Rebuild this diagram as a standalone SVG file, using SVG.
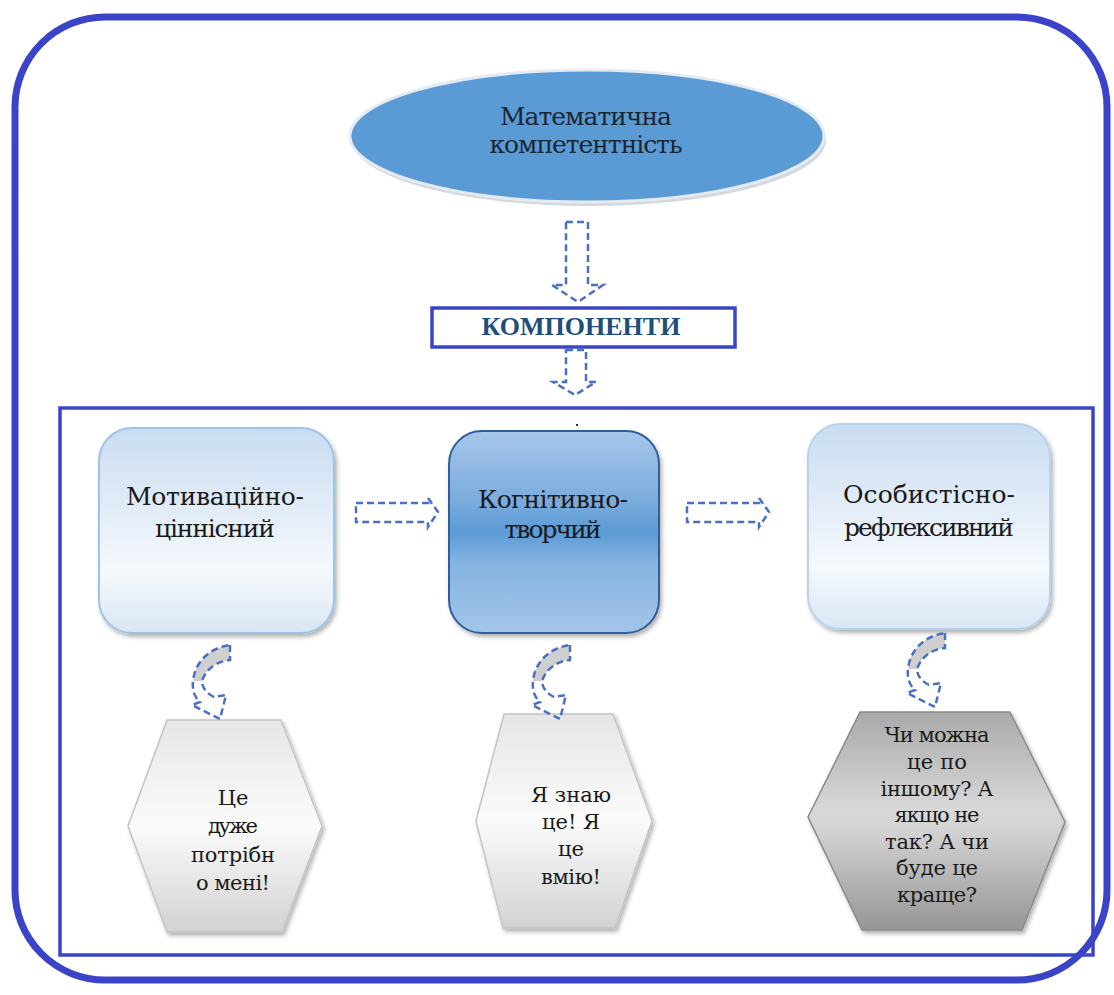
<svg xmlns="http://www.w3.org/2000/svg" width="1114" height="995" viewBox="0 0 1114 995">
<defs>
<style>
.t{font-family:"DejaVu Serif","Liberation Serif",serif;fill:#1a1a1a;text-anchor:middle}
.b{font-family:"Liberation Serif","DejaVu Serif",serif;font-weight:bold;fill:#1f4e79;text-anchor:middle}
.frame{fill:none;stroke:#3b44c9}
.dash{fill:none;stroke:#4a70c4;stroke-width:2.5;stroke-dasharray:7 4}
</style>
<linearGradient id="gLight" x1="0" y1="0" x2="0" y2="1">
<stop offset="0" stop-color="#c9dcf1"/><stop offset="0.7" stop-color="#f5f9fd"/><stop offset="1" stop-color="#d9e6f5"/>
</linearGradient>
<linearGradient id="gMid" x1="0" y1="0" x2="0" y2="1">
<stop offset="0" stop-color="#a6c7ea"/><stop offset="0.35" stop-color="#7aabdd"/><stop offset="0.5" stop-color="#5b9bd5"/><stop offset="0.65" stop-color="#85b3e1"/><stop offset="1" stop-color="#a4c5e9"/>
</linearGradient>
<linearGradient id="gHexL" x1="0" y1="0" x2="0" y2="1">
<stop offset="0" stop-color="#e6e6e6"/><stop offset="0.5" stop-color="#fbfbfb"/><stop offset="1" stop-color="#d2d2d2"/>
</linearGradient>
<linearGradient id="gHexD" x1="0" y1="0" x2="0" y2="1">
<stop offset="0" stop-color="#a9a9a9"/><stop offset="0.45" stop-color="#d8d8d8"/><stop offset="0.55" stop-color="#d2d2d2"/><stop offset="1" stop-color="#959595"/>
</linearGradient>
<filter id="sh" x="-10%" y="-10%" width="120%" height="125%">
<feDropShadow dx="2" dy="3" stdDeviation="2" flood-color="#000" flood-opacity="0.3"/>
</filter>
<g id="curl">
<path d="M 0,0 L 0,15 C -13,16 -24,24 -28,36 L -37,36 C -35,17 -21,3 0,0 Z" fill="#cfcfcf"/>
<path class="dash" d="M 0,0 L 0,15 C -13,16 -24,24 -28,36 C -28,42 -24,48 -16,52 L -4,50 L -10,74 L -38,60 L -30,57 C -36,52 -38,44 -37,36 C -35,17 -21,3 0,0 Z"/>
</g>
</defs>
<rect width="1114" height="995" fill="#ffffff"/>
<rect class="frame" x="15" y="17" width="1092" height="963" rx="90" stroke-width="7"/>
<rect class="frame" x="60" y="408" width="1033" height="547" stroke-width="3.5"/>
<rect x="576" y="424" width="2" height="2" fill="#333"/>

<g id="node-math">
<ellipse cx="589" cy="140" rx="237" ry="66" fill="#b8c0c8" opacity="0.6"/>
<ellipse cx="587" cy="136" rx="237" ry="66" fill="#5b9bd5" stroke="#e4ebf2" stroke-width="3"/>
<text class="t" x="586" y="125" font-size="25" textLength="172" style="fill:#1b2633">Математична</text>
<text class="t" x="586" y="153" font-size="25" textLength="193" style="fill:#1b2633">компетентність</text>
</g>

<g id="node-components">
<rect x="432" y="308" width="303" height="39" fill="#fff" stroke="#3b44c9" stroke-width="3.5"/>
<text class="b" x="581" y="335" font-size="26">КОМПОНЕНТИ</text>
</g>

<g id="node-motiv">
<rect x="99" y="428" width="235" height="205" rx="33" fill="url(#gLight)" stroke="#9dc3e6" stroke-width="2" filter="url(#sh)"/>
<text class="t" x="215" y="505" font-size="25" textLength="178">Мотиваційно-</text>
<text class="t" x="215" y="537" font-size="25" textLength="120">ціннісний</text>
</g>

<g id="node-cognit">
<rect x="449" y="431" width="210" height="202" rx="33" fill="url(#gMid)" stroke="#2e5f9a" stroke-width="2" filter="url(#sh)"/>
<text class="t" x="553" y="508" font-size="25" textLength="150">Когнітивно-</text>
<text class="t" x="553" y="538" font-size="25" textLength="97">творчий</text>
</g>

<g id="node-osob">
<rect x="808" y="424" width="242" height="205" rx="33" fill="url(#gLight)" stroke="#b7d2ec" stroke-width="2" filter="url(#sh)"/>
<text class="t" x="929" y="503" font-size="25" textLength="172">Особистісно-</text>
<text class="t" x="929" y="536" font-size="25" textLength="170">рефлексивний</text>
</g>

<g id="node-hex1">
<polygon points="167,720 281,720 322,826 282,932 167,932 128,826" fill="url(#gHexL)" stroke="#c4c4c4" stroke-width="1.5" filter="url(#sh)"/>
<text class="t" x="233" y="805" font-size="21">Це</text>
<text class="t" x="233" y="833" font-size="21" textLength="50">дуже</text>
<text class="t" x="233" y="862" font-size="21" textLength="84">потрібн</text>
<text class="t" x="233" y="890" font-size="21" textLength="74">о мені!</text>
</g>

<g id="node-hex2">
<polygon points="504,714 613,714 652,821 615,928 503,928 476,821" fill="url(#gHexL)" stroke="#c4c4c4" stroke-width="1.5" filter="url(#sh)"/>
<text class="t" x="571" y="802" font-size="21" textLength="80">Я знаю</text>
<text class="t" x="571" y="829" font-size="21" textLength="58">це! Я</text>
<text class="t" x="571" y="856" font-size="21">це</text>
<text class="t" x="571" y="884" font-size="21" textLength="60">вмію!</text>
</g>

<g id="node-hex3">
<polygon points="860,712 1010,712 1065,822 1022,930 862,930 808,817" fill="url(#gHexD)" stroke="#8a8a8a" stroke-width="1.5" filter="url(#sh)"/>
<text class="t" x="937" y="742" font-size="21" textLength="105">Чи можна</text>
<text class="t" x="937" y="769" font-size="21" textLength="60">це по</text>
<text class="t" x="937" y="796" font-size="21" textLength="113">іншому? А</text>
<text class="t" x="937" y="822" font-size="21" textLength="85">якщо не</text>
<text class="t" x="937" y="849" font-size="21" textLength="104">так? А чи</text>
<text class="t" x="937" y="875" font-size="21" textLength="82">буде це</text>
<text class="t" x="937" y="902" font-size="21" textLength="80">краще?</text>
</g>

<g id="connectors">
<path class="dash" d="M 566,222 L 588,222 L 588,285 L 603,285 L 578,302 L 552,285 L 566,285 Z"/>
<path class="dash" d="M 566,350 L 586,350 L 586,382 L 596,382 L 575,395 L 553,382 L 566,382 Z"/>
<path class="dash" d="M 356,503 L 428,503 L 428,498 L 438,512 L 428,527 L 428,522 L 356,522 Z"/>
<path class="dash" d="M 687,503 L 759,503 L 759,498 L 769,512 L 759,527 L 759,522 L 687,522 Z"/>
<use href="#curl" transform="translate(230,645)"/>
<use href="#curl" transform="translate(570,645)"/>
<use href="#curl" transform="translate(945,633)"/>
</g>
</svg>
